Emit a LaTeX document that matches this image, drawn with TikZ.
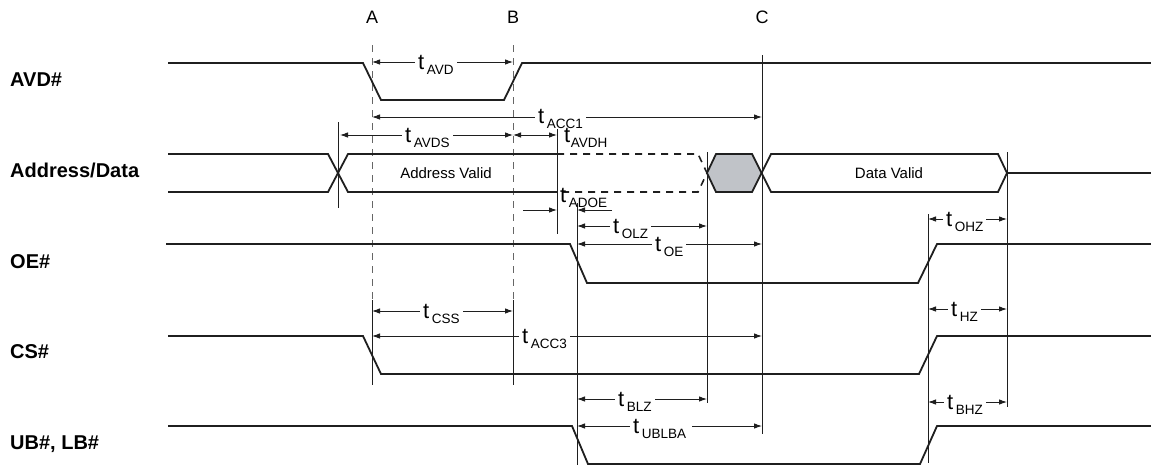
\documentclass[tikz,border=0pt]{standalone}
\usepackage{fontspec}
\setmainfont{Liberation Sans}
\usetikzlibrary{arrows.meta}
\definecolor{hexgray}{RGB}{192,195,200}
\newcommand\tsub[1]{{\fontsize{22}{22}\selectfont t}\hspace{2.5pt}\raisebox{-5pt}{\fontsize{13.5}{13.5}\selectfont #1}\hspace{3pt}}
\newcommand\tsubn[1]{{\fontsize{22}{22}\selectfont t}\hspace{0.5pt}\raisebox{-5pt}{\fontsize{13.5}{13.5}\selectfont #1}}
\begin{document}
\begin{tikzpicture}[x=1pt,y=-1pt,
  sig/.style={line width=1.8pt, black!88, line join=miter},
  vline/.style={line width=0.9pt, black!88},
  guide/.style={line width=1pt, black!60, dash pattern=on 7pt off 6pt},
  busdash/.style={line width=1.6pt, black!88, dash pattern=on 7pt off 6pt},
  dim/.style={line width=0.9pt, black!88, {Latex[length=8pt,width=5.5pt]}-{Latex[length=8pt,width=5.5pt]}},
  dimr/.style={line width=0.9pt, black!88, -{Latex[length=8pt,width=5.5pt]}},
  tl/.style={fill=white, inner xsep=3pt, inner ysep=1pt, anchor=base west},
  tlfree/.style={inner sep=0pt, anchor=base west},
  siglabel/.style={font=\fontsize{20}{20}\selectfont\bfseries, anchor=base west, inner sep=0pt},
  letter/.style={font=\fontsize{18}{18}\selectfont, anchor=base, inner sep=0pt},
  bustext/.style={font=\fontsize{15}{15}\selectfont, anchor=base, inner sep=0pt}
]
\fill[white] (0,0) rectangle (1151,469);
\useasboundingbox (0,0) rectangle (1151,469);

% signal names
\node[siglabel] (nAVD) at (10,86) {AVD\#};
\node[siglabel] (nAD) at (10,177) {Address/Data};
\node[siglabel] (nOE) at (10,268) {OE\#};
\node[siglabel] (nCS) at (10,358) {CS\#};
\node[siglabel] (nUB) at (10,449) {UB\#, LB\#};

% reference letters
\node[letter] (lA) at (372,23) {A};
\node[letter] (lB) at (513,23) {B};
\node[letter] (lC) at (762,23) {C};

% guide lines A and B
\draw[guide] (372,45) -- (372,300);
\draw[vline] (372,300) -- (372,385);
\draw[guide] (513,45) -- (513,300);
\draw[vline] (513,300) -- (513,385);

% vertical reference lines
\draw[vline] (338,122) -- (338,208);
\draw[vline] (557,128) -- (557,234);
\draw[vline] (577,203) -- (577,465);
\draw[vline] (707,152) -- (707,403);
\draw[vline] (762,55) -- (762,434);
\draw[vline] (928,214) -- (928,463);
\draw[vline] (1007,152) -- (1007,407);

% AVD#
\draw[sig] (168,63) -- (363,63) -- (381,100) -- (504,100) -- (522,63) -- (1151,63);

% Address/Data bus
\draw[sig] (168,154) -- (328,154) -- (348,192) -- (557,192);
\draw[sig] (168,192) -- (328,192) -- (348,154) -- (557,154);
\draw[busdash] (557,154) -- (698,154) -- (707,173) -- (698,192) -- (557,192);
\draw[sig, fill=hexgray] (707,173) -- (716,154) -- (752,154) -- (761.5,173) -- (752,192) -- (716,192) -- cycle;
\draw[sig] (761.5,173) -- (771,154) -- (998,154) -- (1007,173) -- (998,192) -- (771,192) -- cycle;
\draw[sig] (1007,173) -- (1151,173);
\node[bustext] (tAV) at (446,178) {Address Valid};
\node[bustext] (tDV) at (889,178) {Data Valid};

% OE#
\draw[sig] (166,244) -- (570,244) -- (587,283) -- (918,283) -- (937,244) -- (1151,244);
% CS#
\draw[sig] (168,336) -- (363,336) -- (381,374) -- (919,374) -- (937,336) -- (1151,336);
% UB#, LB#
\draw[sig] (168,426) -- (572,426) -- (588,464) -- (920,464) -- (937,426) -- (1151,426);

% timing dimensions
\draw[dim] (372,62) -- (513,62);
\node[tl] (dAVD) at (415,69) {\tsub{AVD}};
\draw[dim] (372,117) -- (762,117);
\node[tl] (dACC1) at (535,123) {\tsub{ACC1}};
\draw[dim] (340,135) -- (513,135);
\node[tl] (dAVDS) at (402,142) {\tsub{AVDS}};
\draw[dim] (513,135) -- (557,135);
\node[tlfree] (dAVDH) at (564,142) {\tsubn{AVDH}};
\draw[dimr] (523,210) -- (557,210);
\draw[dimr] (612,210) -- (577,210);
\node[tlfree] (dADOE) at (560,202) {\tsub{ADOE}};
\draw[dim] (577,226) -- (707,226);
\node[tl] (dOLZ) at (610,233) {\tsub{OLZ}};
\draw[dim] (577,244) -- (762,244);
\node[tl] (dOE) at (652,251) {\tsub{OE}};
\draw[dim] (928,219) -- (1007,219);
\node[tl] (dOHZ) at (943,226) {\tsub{OHZ}};
\draw[dim] (372,311) -- (513,311);
\node[tl] (dCSS) at (420,318) {\tsub{CSS}};
\draw[dim] (372,336) -- (762,336);
\node[tl] (dACC3) at (519,343) {\tsub{ACC3}};
\draw[dim] (928,309) -- (1007,309);
\node[tl] (dHZ) at (948,316) {\tsub{HZ}};
\draw[dim] (577,399) -- (707,399);
\node[tl] (dBLZ) at (615,406) {\tsub{BLZ}};
\draw[dim] (577,426) -- (762,426);
\node[tl] (dUBLBA) at (630,433) {\tsub{UBLBA}\hspace{6pt}};
\draw[dim] (928,402) -- (1007,402);
\node[tl] (dBHZ) at (944,409) {\tsub{BHZ}};
\end{tikzpicture}
\end{document}
